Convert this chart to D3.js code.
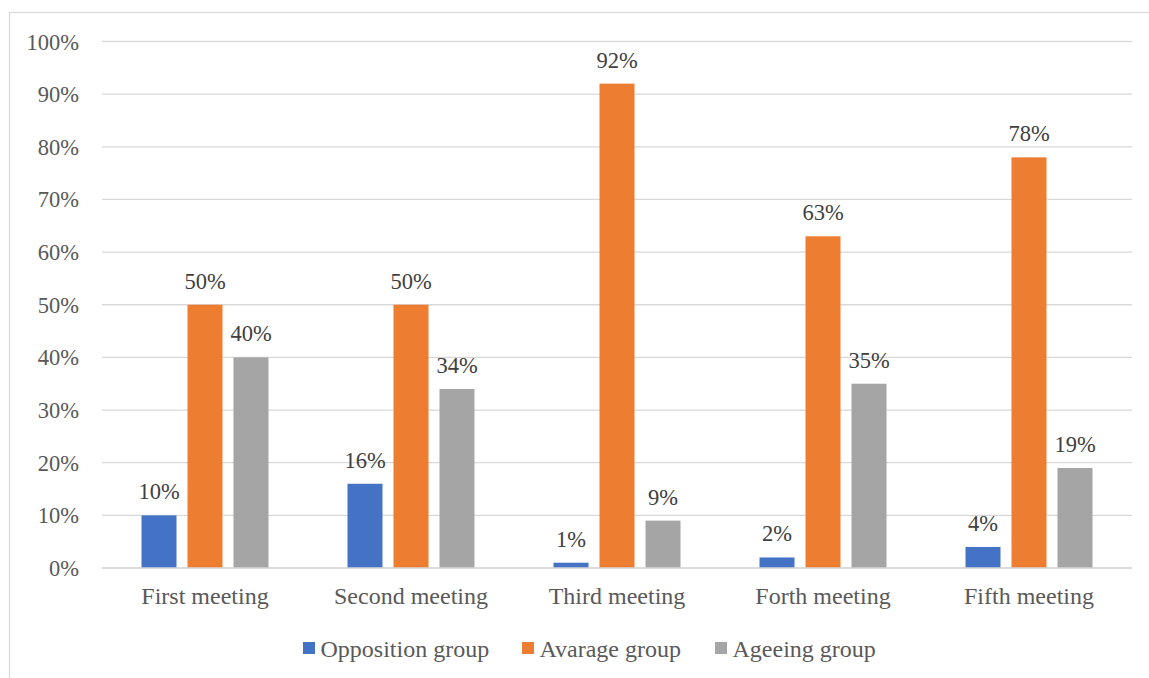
<!DOCTYPE html>
<html>
<head>
<meta charset="utf-8">
<script src="https://cdn.jsdelivr.net/npm/d3@7"></script>
<style>
  html, body { margin: 0; padding: 0; background: #fff; }
  svg { display: block; font-family: "Liberation Serif", "Times New Roman", serif; }
</style>
</head>
<body>
<div id="chart"></div>
<script>
const categories = ["First meeting", "Second meeting", "Third meeting", "Forth meeting", "Fifth meeting"];
const seriesNames = ["Opposition group", "Avarage group", "Ageeing group"];
const opposition = [10, 16, 1, 2, 4];
const average = [50, 50, 92, 63, 78];
const ageing = [40, 34, 9, 35, 19];
const yTicks = [0, 10, 20, 30, 40, 50, 60, 70, 80, 90, 100];
const colors = ["#4472C4", "#ED7D31", "#A5A5A5"];

const width = 1149;
const height = 678;
const plot = { left: 102, right: 1132, top: 41.5, bottom: 568 };
const textColor = "#595959";

const svg = d3.select("#chart")
  .append("svg")
  .attr("width", width)
  .attr("height", height);

// outer chart border
svg.append("rect")
  .attr("x", 9.5).attr("y", 12.5)
  .attr("width", width + 10).attr("height", height + 10)
  .attr("fill", "none")
  .attr("stroke", "#d9d9d9")
  .attr("stroke-width", 1.2);

const x = d3.scaleBand()
  .domain(categories)
  .range([plot.left, plot.right]);

const yScale = d3.scaleLinear()
  .domain([0, 100])
  .range([plot.bottom, plot.top]);

// gridlines
svg.append("g")
  .selectAll("line")
  .data(yTicks)
  .join("line")
  .attr("x1", plot.left)
  .attr("x2", plot.right)
  .attr("y1", (d) => yScale(d))
  .attr("y2", (d) => yScale(d))
  .attr("stroke", "#d9d9d9")
  .attr("stroke-width", 1.3);

// y tick labels
svg.append("g")
  .selectAll("text")
  .data(yTicks)
  .join("text")
  .attr("x", 79)
  .attr("y", (d) => yScale(d) + 8)
  .attr("text-anchor", "end")
  .attr("font-size", 22.5)
  .attr("fill", textColor)
  .text((d) => `${d}%`);

const rows = categories.map((cat, i) => ({
  cat,
  values: [opposition[i], average[i], ageing[i]]
}));

const barWidth = 35;
const step = 46;
const inner = d3.scaleBand()
  .domain(seriesNames)
  .range([-step * 1.5, step * 1.5]);

const groups = svg.append("g")
  .selectAll("g")
  .data(rows)
  .join("g")
  .attr("transform", (d) => `translate(${x(d.cat) + x.bandwidth() / 2},0)`);

const cells = groups.selectAll("g")
  .data((d) => d.values.map((v, j) => ({ name: seriesNames[j], value: v, color: colors[j] })))
  .join("g");

cells.append("rect")
  .attr("x", (d) => inner(d.name) + (inner.bandwidth() - barWidth) / 2)
  .attr("y", (d) => yScale(d.value))
  .attr("width", barWidth)
  .attr("height", (d) => yScale(0) - yScale(d.value))
  .attr("fill", (d) => d.color);

cells.append("text")
  .attr("x", (d) => inner(d.name) + inner.bandwidth() / 2)
  .attr("y", (d) => yScale(d.value) - 16)
  .attr("text-anchor", "middle")
  .attr("font-size", 22.5)
  .attr("fill", "#404040")
  .text((d) => `${d.value}%`);

// baseline
svg.append("line")
  .attr("x1", plot.left).attr("x2", plot.right)
  .attr("y1", yScale(0)).attr("y2", yScale(0))
  .attr("stroke", "#d9d9d9")
  .attr("stroke-width", 1.3);

// category labels
svg.append("g")
  .selectAll("text")
  .data(categories)
  .join("text")
  .attr("x", (d) => x(d) + x.bandwidth() / 2)
  .attr("y", 603.5)
  .attr("text-anchor", "middle")
  .attr("font-size", 24)
  .attr("fill", textColor)
  .text((d) => d);

// legend
const legendX = [303, 522, 715];
const legend = svg.append("g")
  .selectAll("g")
  .data(seriesNames)
  .join("g")
  .attr("transform", (d, i) => `translate(${legendX[i]},648)`);

legend.append("rect")
  .attr("x", 0).attr("y", -6)
  .attr("width", 12).attr("height", 12)
  .attr("fill", (d, i) => colors[i]);

legend.append("text")
  .attr("x", 17.5)
  .attr("y", 8.5)
  .attr("font-size", 24)
  .attr("fill", textColor)
  .text((d) => d);
</script>
</body>
</html>
